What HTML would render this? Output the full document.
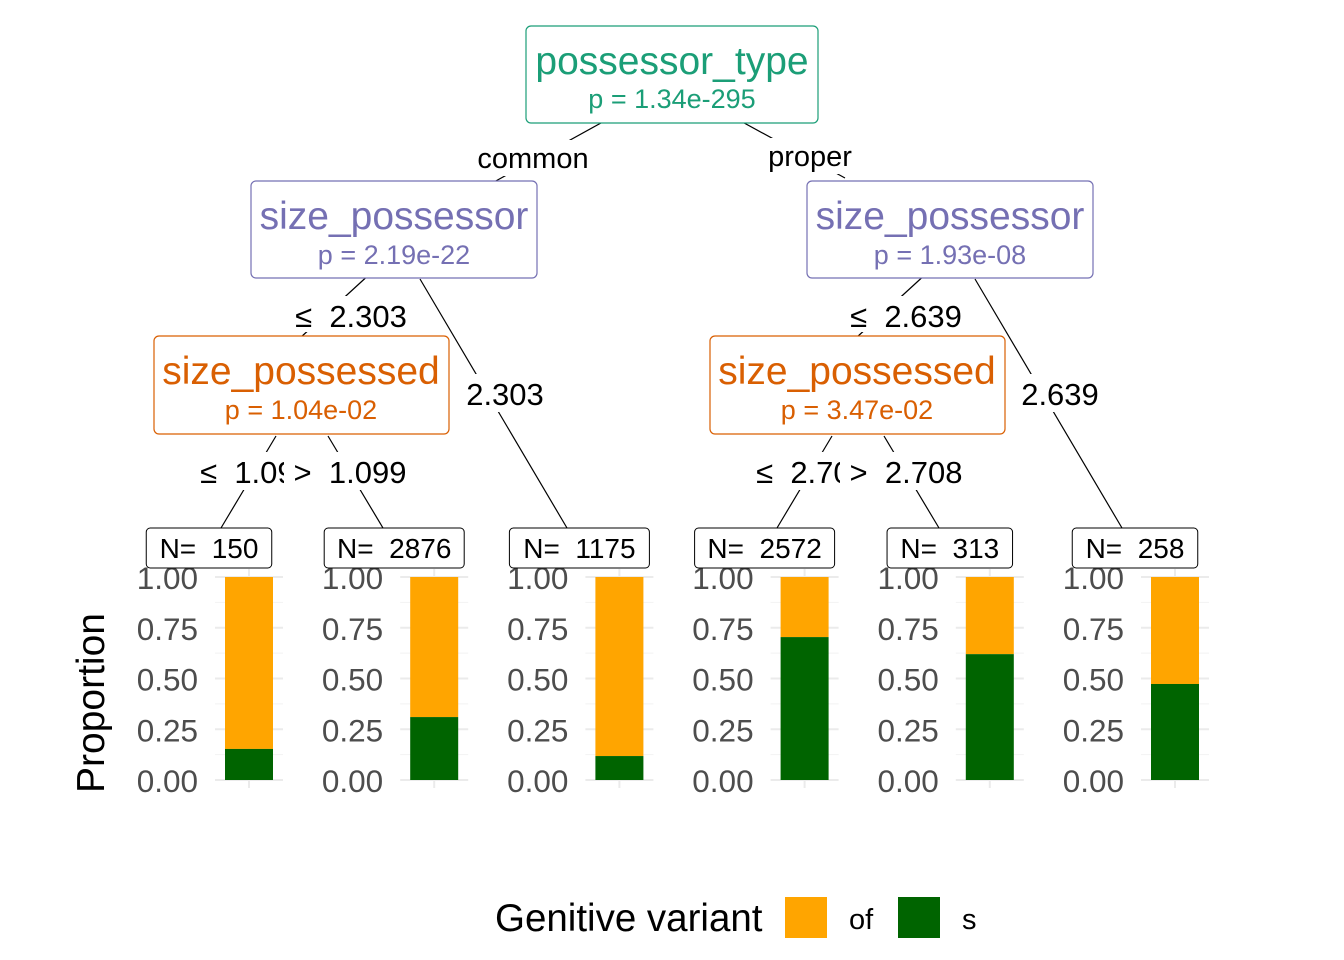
<!DOCTYPE html>
<html><head><meta charset="utf-8"><style>
html,body{margin:0;padding:0;background:#fff;}
svg{display:block;font-family:"Liberation Sans",Arial,sans-serif;}
</style></head><body>
<svg id="chart" width="1344" height="960" viewBox="0 0 1344 960" xmlns="http://www.w3.org/2000/svg">
<g id="edges" stroke="#000" stroke-width="1.2" fill="none">
  <line x1="610" y1="118" x2="494" y2="182"/>
  <line x1="735" y1="118" x2="845" y2="178"/>
  <line x1="372" y1="272" x2="300" y2="338"/>
  <line x1="420" y1="279" x2="567" y2="528"/>
  <line x1="928" y1="272" x2="856" y2="338"/>
  <line x1="975" y1="279" x2="1122" y2="528"/>
  <line x1="276" y1="436" x2="221" y2="528"/>
  <line x1="328" y1="436" x2="383" y2="528"/>
  <line x1="832" y1="436" x2="777" y2="528"/>
  <line x1="884" y1="436" x2="939" y2="528"/>
</g>
<g id="edge-labels" font-size="29" fill="#000" text-anchor="middle">
  <rect x="470" y="140" width="126" height="36" fill="#fff"/>
  <text x="533" y="168">common</text>
  <rect x="760" y="138" width="100" height="36" fill="#fff"/>
  <text x="810" y="166">proper</text>
  <rect x="292" y="296" width="118" height="36" fill="#fff"/>
  <text x="351" y="327" font-size="31">≤&#160; 2.303</text>
  <rect x="462" y="374" width="86" height="38" fill="#fff"/>
  <text x="505" y="405" font-size="31">2.303</text>
  <rect x="846" y="296" width="118" height="36" fill="#fff"/>
  <text x="906" y="327" font-size="31">≤&#160; 2.639</text>
  <rect x="1017" y="374" width="86" height="38" fill="#fff"/>
  <text x="1060" y="405" font-size="31">2.639</text>
  <rect x="200" y="452" width="86" height="38" fill="#fff"/>
  <text x="256" y="483" font-size="31">≤&#160; 1.099</text>
  <rect x="284" y="452" width="130" height="38" fill="#fff"/>
  <text x="350" y="483" font-size="31">&gt;&#160; 1.099</text>
  <rect x="756" y="452" width="86" height="38" fill="#fff"/>
  <text x="812" y="483" font-size="31">≤&#160; 2.708</text>
  <rect x="840" y="452" width="130" height="38" fill="#fff"/>
  <text x="906" y="483" font-size="31">&gt;&#160; 2.708</text>
</g>
<g id="nodes" text-anchor="middle">
  <g fill="#1b9e77">
    <rect x="526" y="26" width="292" height="97" rx="5" fill="#fff" stroke="#1b9e77" stroke-width="1.2"/>
    <text x="672" y="74" font-size="39">possessor_type</text>
    <text x="672" y="108" font-size="27">p = 1.34e-295</text>
  </g>
  <g fill="#7570b3">
    <rect x="251" y="181" width="286" height="97" rx="5" fill="#fff" stroke="#7570b3" stroke-width="1.2"/>
    <text x="394" y="229" font-size="39">size_possessor</text>
    <text x="394" y="264" font-size="27">p = 2.19e-22</text>
  </g>
  <g fill="#7570b3">
    <rect x="807" y="181" width="286" height="97" rx="5" fill="#fff" stroke="#7570b3" stroke-width="1.2"/>
    <text x="950" y="229" font-size="39">size_possessor</text>
    <text x="950" y="264" font-size="27">p = 1.93e-08</text>
  </g>
  <g fill="#d95f02">
    <rect x="154" y="336" width="295" height="98" rx="5" fill="#fff" stroke="#d95f02" stroke-width="1.2"/>
    <text x="301" y="384" font-size="39">size_possessed</text>
    <text x="301" y="419" font-size="27">p = 1.04e-02</text>
  </g>
  <g fill="#d95f02">
    <rect x="710" y="336" width="295" height="98" rx="5" fill="#fff" stroke="#d95f02" stroke-width="1.2"/>
    <text x="857" y="384" font-size="39">size_possessed</text>
    <text x="857" y="419" font-size="27">p = 3.47e-02</text>
  </g>
</g>
<g id="panels"></g>
<text transform="translate(104,703) rotate(-90)" text-anchor="middle" font-size="39" fill="#000">Proportion</text>
<g>
  <text x="495" y="931" font-size="38.5" fill="#000">Genitive variant</text>
  <rect x="785" y="897" width="42" height="41" fill="#FFA500"/>
  <text x="849" y="929" font-size="29" fill="#000">of</text>
  <rect x="898" y="897" width="42" height="41" fill="#006400"/>
  <text x="962" y="929" font-size="29" fill="#000">s</text>
</g>
</svg>
<script>
const leafN = [150, 2876, 1175, 2572, 313, 258];
const propS = [0.153, 0.31, 0.118, 0.704, 0.62, 0.473];
const tickVals = [0, 0.25, 0.5, 0.75, 1];
const tickLabels = ["0.00", "0.25", "0.50", "0.75", "1.00"];

const NS = "http://www.w3.org/2000/svg";
const g = document.getElementById('panels');
const y0 = 780, y1 = 577;
const yScale = v => y0 - v * (y0 - y1);
const panelX = i => 249 + i * 185.2;
function mk(tag, attrs, parent) {
  const e = document.createElementNS(NS, tag);
  for (const k in attrs) e.setAttribute(k, attrs[k]);
  parent.appendChild(e);
  return e;
}
leafN.forEach((n, i) => {
  const cx = panelX(i);
  const p = mk('g', {}, g);
  
  
  for (let k = 0; k < 4; k++) {
    const v = (tickVals[k] + tickVals[k + 1]) / 2;
    mk('line', {x1: cx - 34, x2: cx + 34, y1: yScale(v), y2: yScale(v), stroke: '#f2f2f2', 'stroke-width': 1}, p);
  }
  tickVals.forEach((v, k) => {
    mk('line', {x1: cx - 34, x2: cx + 34, y1: yScale(v), y2: yScale(v), stroke: '#ebebeb', 'stroke-width': 2}, p);
    const t = mk('text', {x: cx - 51, y: yScale(v) + 12, 'text-anchor': 'end', 'font-size': 31.5, fill: '#4d4d4d'}, p);
    
    
    t.textContent = tickLabels[k];
  });
  mk('line', {x1: cx, x2: cx, y1: y1 - 8, y2: y0 + 8, stroke: '#ebebeb', 'stroke-width': 2}, p);
  const of = mk('rect', {x: cx - 24, width: 48, y: yScale(1), height: yScale(propS[i]) - yScale(1), fill: '#FFA500'}, p);
  
  
  const s = mk('rect', {x: cx - 24, width: 48, y: yScale(propS[i]), height: y0 - yScale(propS[i]), fill: '#006400'}, p);
  
  
  const label = 'N=  ' + n;
  const w = 24 + label.length * 14.5;
  const lb = mk('rect', {x: cx - 40 - w / 2, y: 528, width: w, height: 40, rx: 4, fill: '#fff', stroke: '#000', 'stroke-width': 1}, p);
  
  
  const lt = mk('text', {x: cx - 40, y: 558, 'text-anchor': 'middle', 'font-size': 28, fill: '#000'}, p);
  
  
  lt.style.whiteSpace = 'pre';
  lt.textContent = label;
});
</script>
</body></html>
